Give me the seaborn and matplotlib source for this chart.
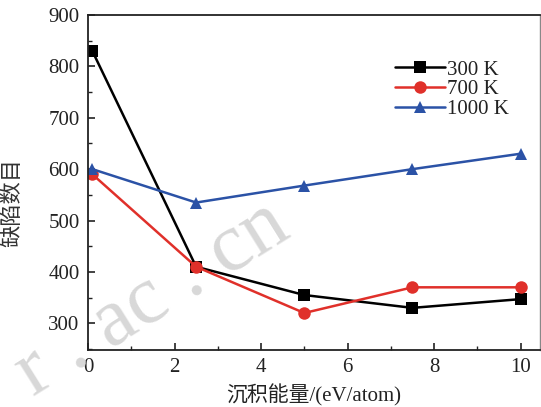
import matplotlib
matplotlib.use("Agg")
import matplotlib.pyplot as plt
import seaborn as sns
import pandas as pd
from matplotlib.ticker import MultipleLocator

energy = [0.1, 2.5, 5.0, 7.5, 10.0]
defects_300 = [830, 410, 355, 330, 347]
defects_700 = [590, 410, 320, 370, 370]
defects_1000 = [600, 535, 568, 600, 630]
series_labels = ["300 K", "700 K", "1000 K"]
xlabel = "沉积能量/(eV/atom)"
ylabel = "缺陷数目"

df = pd.DataFrame({
    "energy": energy * 3,
    "defects": defects_300 + defects_700 + defects_1000,
    "series": [series_labels[0]] * 5 + [series_labels[1]] * 5 + [series_labels[2]] * 5,
})

sns.set_theme(style="ticks")
fam = ["Liberation Serif", "Noto Sans CJK SC", "DejaVu Sans"]
plt.rcParams["font.family"] = fam

fig = plt.figure(figsize=(5.41, 4.07), dpi=100)

fig.text(0.005, 0.03, "r . ac . cn", fontsize=60, color="#d8d8d8", rotation=32,
         family=fam, zorder=0)

ax = fig.add_axes([88 / 541, 1 - 350 / 407, (540 - 88) / 541, (350 - 15) / 407])
ax.patch.set_alpha(0)

palette = {"300 K": "#000000", "700 K": "#e0302a", "1000 K": "#2b52a6"}
markers = {"300 K": "s", "700 K": "o", "1000 K": "^"}
sns.lineplot(data=df, x="energy", y="defects", hue="series", style="series",
             palette=palette, markers=markers, dashes=False, markersize=9,
             linewidth=1.8, markeredgewidth=0, ax=ax)

ax.set_xlim(0, 10.45)
ax.set_ylim(248, 900)
ax.xaxis.set_major_locator(MultipleLocator(2))
ax.xaxis.set_minor_locator(MultipleLocator(1))
ax.yaxis.set_major_locator(MultipleLocator(100))
ax.yaxis.set_minor_locator(MultipleLocator(50))
ax.tick_params(which="major", direction="in", length=5, width=1.2, labelsize=15, pad=6,
               color="#222222", labelcolor="#222222")
ax.tick_params(which="minor", direction="in", length=3, width=1.0, color="#222222")
ax.set_yticks([300, 400, 500, 600, 700, 800, 900])
ax.set_xlabel(xlabel, fontsize=15, color="#222222", labelpad=5)
ax.set_ylabel(ylabel, fontsize=16, color="#333333", fontweight="light")
ax.yaxis.set_label_coords(-0.144, 0.44)
for s in ["left", "bottom", "top"]:
    ax.spines[s].set_color("#222222")
    ax.spines[s].set_linewidth(1.3)
ax.spines["right"].set_color("#888888")
ax.spines["right"].set_linewidth(1.0)

leg = ax.legend(frameon=False, loc="upper left", bbox_to_anchor=(0.66, 0.89),
                fontsize=15, handlelength=2.4, handletextpad=0.1, labelspacing=0.0,
                borderaxespad=0.0)
for t in leg.get_texts():
    t.set_color("#222222")

fig.savefig("out.png", dpi=100)
